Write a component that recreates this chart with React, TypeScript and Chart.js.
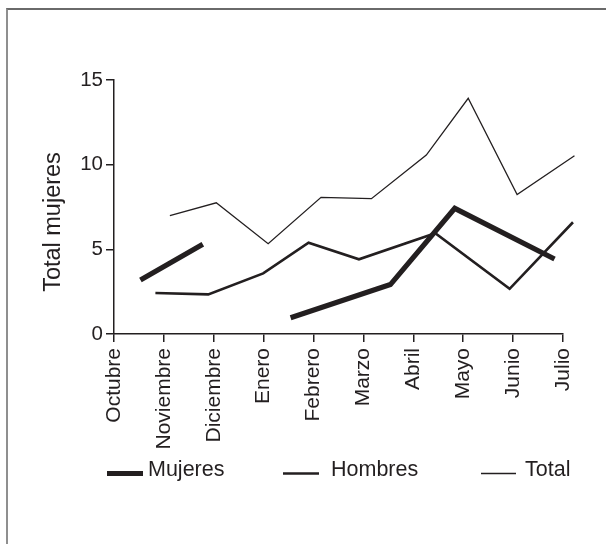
import React, { useEffect, useRef } from 'react';
import { Chart, registerables } from 'chart.js';

Chart.register(...registerables);

// ---- data ----
const months = ['Octubre', 'Noviembre', 'Diciembre', 'Enero', 'Febrero', 'Marzo', 'Abril', 'Mayo', 'Junio', 'Julio'];
const seriesNames = ['Mujeres', 'Hombres', 'Total'];
const yTicks = [0, 5, 10, 15];
const yTitle = 'Total mujeres';

// position along the month axis (0 = Octubre) and value of each point
const mujeresPos = [0.53, 1.78, 2.6, 3.54, 5.54, 6.83, 8.83];
const mujeresVal = [3.19, 5.3, null, 0.96, 2.92, 7.42, 4.43];
const hombresPos = [0.83, 1.89, 2.99, 3.9, 4.91, 6.44, 7.93, 9.2];
const hombresVal = [2.42, 2.34, 3.58, 5.39, 4.41, 5.95, 2.67, 6.6];
const totalPos = [1.12, 2.05, 3.09, 4.15, 5.16, 6.26, 7.1, 8.08, 9.23];
const totalVal = [6.99, 7.75, 5.33, 8.07, 7.99, 10.57, 13.92, 8.23, 10.53];

// ---- styling ----
const INK = '#231f20';
const FONT = "'Liberation Sans', Arial, Helvetica, sans-serif";
const lineWidths = [5.2, 2.6, 1.3];
const legendLayout = [
  { x0: 107, x1: 143, tx: 148 },
  { x0: 283, x1: 319, tx: 331 },
  { x0: 481, x1: 516, tx: 525 },
];

function toPoints(pos: number[], val: (number | null)[]) {
  return pos.map((x, i) => ({ x, y: val[i] }));
}

const overlayPlugin = {
  id: 'overlay',
  afterDraw(chart: any) {
    const ctx = chart.ctx as CanvasRenderingContext2D;
    ctx.save();
    // y-axis title
    ctx.fillStyle = INK;
    ctx.font = `23.5px ${FONT}`;
    ctx.textAlign = 'center';
    ctx.textBaseline = 'middle';
    ctx.translate(54, 222);
    ctx.rotate(-Math.PI / 2);
    ctx.fillText(yTitle, 0, 0);
    ctx.restore();

    // legend
    ctx.save();
    chart.data.datasets.forEach((ds: any, i: number) => {
      const l = legendLayout[i];
      ctx.strokeStyle = ds.borderColor;
      ctx.lineWidth = ds.borderWidth;
      ctx.lineCap = 'butt';
      ctx.beginPath();
      ctx.moveTo(l.x0, 473.5);
      ctx.lineTo(l.x1, 473.5);
      ctx.stroke();
      ctx.fillStyle = INK;
      ctx.font = `21.5px ${FONT}`;
      ctx.textAlign = 'left';
      ctx.textBaseline = 'middle';
      ctx.fillText(ds.label, l.tx, 470);
    });
    ctx.restore();
  },
};

export default function App() {
  const canvasRef = useRef<HTMLCanvasElement | null>(null);

  useEffect(() => {
    if (!canvasRef.current) return;
    const vals = [
      toPoints(mujeresPos, mujeresVal),
      toPoints(hombresPos, hombresVal),
      toPoints(totalPos, totalVal),
    ];
    const chart = new Chart(canvasRef.current, {
      type: 'line',
      data: {
        datasets: seriesNames.map((name, i) => ({
          label: name,
          data: vals[i] as any,
          borderColor: INK,
          backgroundColor: INK,
          borderWidth: lineWidths[i],
          borderJoinStyle: 'miter',
          borderCapStyle: 'butt',
          pointRadius: 0,
          pointHoverRadius: 0,
          tension: 0,
          spanGaps: false,
          clip: false as any,
        })),
      },
      plugins: [overlayPlugin],
      options: {
        animation: false,
        responsive: false,
        devicePixelRatio: 1,
        layout: { padding: { top: 80, right: 43, bottom: 0, left: 0 } },
        plugins: { legend: { display: false }, tooltip: { enabled: false } },
        scales: {
          x: {
            type: 'linear',
            min: 0,
            max: months.length - 1,
            afterBuildTicks: (s: any) => {
              s.ticks = months.map((_, i) => ({ value: i }));
            },
            afterFit: (s: any) => {
              s.height = 210;
            },
            ticks: {
              autoSkip: false,
              maxRotation: 90,
              minRotation: 90,
              padding: 6,
              color: INK,
              font: { family: FONT, size: 21 },
              callback: (v: any) => months[Math.round(Number(v))],
            },
            grid: { drawOnChartArea: false, drawTicks: true, tickLength: 8, color: INK, lineWidth: 1.5 },
            border: { display: true, color: INK, width: 1.5 },
          },
          y: {
            type: 'linear',
            min: 0,
            max: 15,
            afterBuildTicks: (s: any) => {
              s.ticks = yTicks.map((v) => ({ value: v }));
            },
            afterFit: (s: any) => {
              s.width = 114;
            },
            ticks: {
              padding: 3,
              color: INK,
              font: { family: FONT, size: 20.5 },
            },
            grid: { drawOnChartArea: false, drawTicks: true, tickLength: 8, color: INK, lineWidth: 1.5 },
            border: { display: true, color: INK, width: 1.5 },
          },
        },
      } as any,
    });
    return () => chart.destroy();
  }, []);

  return (
    <div style={{ position: 'fixed', left: 0, top: 0, width: 606, height: 544, background: '#fff', overflow: 'hidden' }}>
      <div
        style={{
          position: 'absolute',
          left: 6,
          top: 8,
          right: -4,
          bottom: -4,
          borderLeft: '2px solid #8f8f8f',
          borderTop: '2px solid #6a6a6a',
        }}
      />
      <canvas ref={canvasRef} width={606} height={544} style={{ position: 'absolute', left: 0, top: 0 }} />
    </div>
  );
}
